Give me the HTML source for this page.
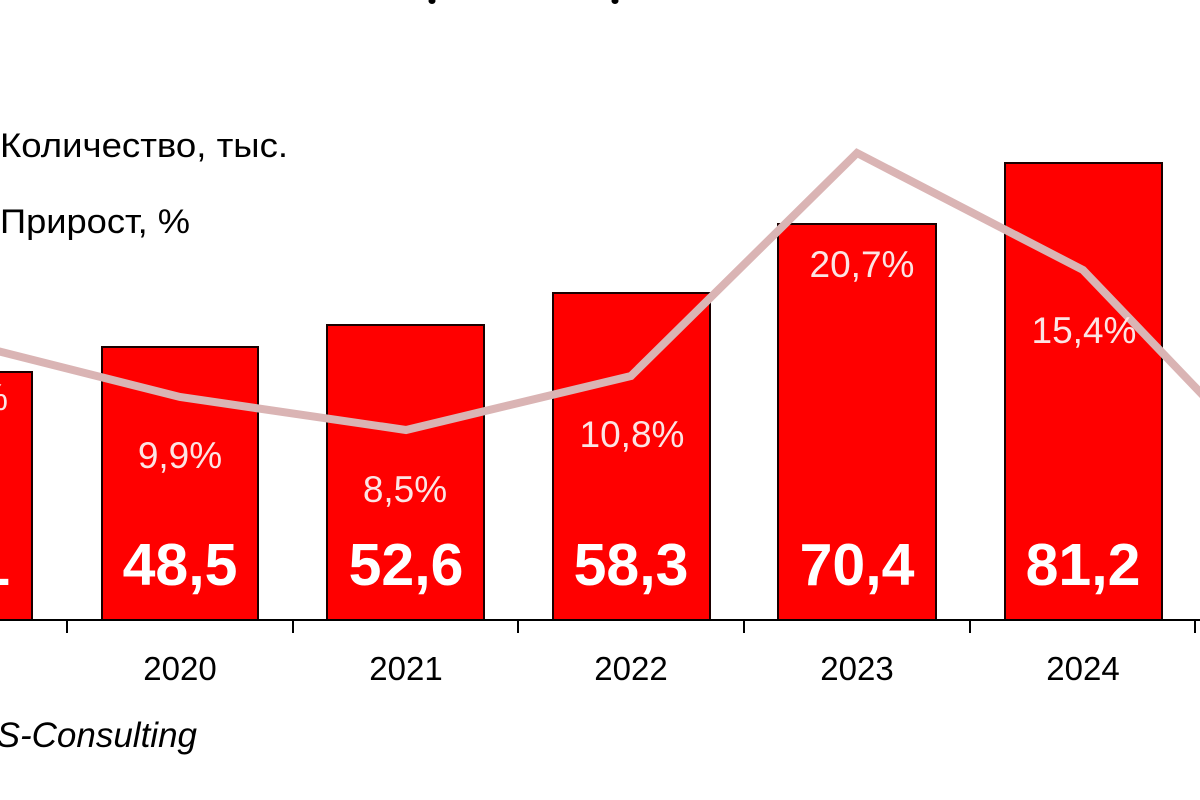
<!DOCTYPE html>
<html>
<head>
<meta charset="utf-8">
<style>
html,body{margin:0;padding:0;background:#fff;}
svg{display:block;}
text{font-family:"Liberation Sans","DejaVu Sans",sans-serif;}
</style>
</head>
<body>
<svg width="1200" height="800" viewBox="0 0 1200 800" xmlns="http://www.w3.org/2000/svg">
<rect x="0" y="0" width="1200" height="800" fill="#fff"/>
<!-- title descender remnants -->
<ellipse cx="432" cy="1" rx="3.5" ry="3" fill="#000"/>
<ellipse cx="615" cy="1" rx="3.5" ry="3" fill="#000"/>

<!-- legend -->
<text x="0" y="157" font-size="34" fill="#000" textLength="288" lengthAdjust="spacingAndGlyphs">Количество, тыс.</text>
<text x="0" y="233" font-size="34" fill="#000" textLength="190" lengthAdjust="spacingAndGlyphs">Прирост, %</text>

<!-- bars -->
<g fill="#ff0000" stroke="#1a0000" stroke-width="2">
<rect x="-125" y="372" width="157" height="248"/>
<rect x="102" y="347" width="156" height="273"/>
<rect x="327" y="325" width="157" height="295"/>
<rect x="553" y="293" width="157" height="327"/>
<rect x="778" y="224" width="158" height="396"/>
<rect x="1005" y="163" width="157" height="457"/>
</g>

<!-- axis -->
<line x1="0" y1="620" x2="1200" y2="620" stroke="#000" stroke-width="2"/>
<g stroke="#000" stroke-width="2">
<line x1="67" y1="620" x2="67" y2="633"/>
<line x1="293" y1="620" x2="293" y2="633"/>
<line x1="518" y1="620" x2="518" y2="633"/>
<line x1="744" y1="620" x2="744" y2="633"/>
<line x1="970" y1="620" x2="970" y2="633"/>
<line x1="1195" y1="620" x2="1195" y2="633"/>
</g>

<!-- growth line -->
<polyline points="-46,340 180,397 406,430 631,376 857,153 1083,270 1308,505" fill="none" stroke="#dab4b4" stroke-width="8" stroke-linejoin="miter"/>

<!-- value labels -->
<g font-size="59" font-weight="bold" fill="#fff" text-anchor="middle">
<text x="-46" y="585" text-anchor="end" dx="56">44,1</text>
<text x="180" y="585">48,5</text>
<text x="406" y="585">52,6</text>
<text x="631" y="585">58,3</text>
<text x="857" y="585">70,4</text>
<text x="1083" y="585">81,2</text>
</g>

<!-- percent labels -->
<g font-size="37" fill="#fce4e4" text-anchor="middle">
<text x="8" y="410" text-anchor="end">10,5%</text>
<text x="180" y="468">9,9%</text>
<text x="405" y="502">8,5%</text>
<text x="632" y="447">10,8%</text>
<text x="862" y="277">20,7%</text>
<text x="1084" y="343">15,4%</text>
</g>

<!-- year labels -->
<g font-size="33" fill="#000" text-anchor="middle">
<text x="180" y="680">2020</text>
<text x="406" y="680">2021</text>
<text x="631" y="680">2022</text>
<text x="857" y="680">2023</text>
<text x="1083" y="680">2024</text>
</g>

<!-- source -->
<text x="197" y="747" font-size="35" font-style="italic" fill="#000" text-anchor="end">RBS-Consulting</text>
</svg>
</body>
</html>
